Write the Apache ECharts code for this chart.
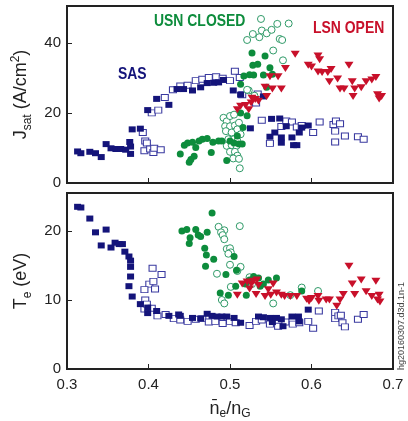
<!DOCTYPE html>
<html>
<head>
<meta charset="utf-8">
<script src="https://cdn.jsdelivr.net/npm/echarts@6/dist/echarts.min.js"></script>
<style>
  html, body { margin: 0; padding: 0; background: #fff; }
  #main { width: 408px; height: 421px; }
</style>
</head>
<body>
<div id="main"></div>
<script>
// x = ne/nG, y = Jsat (top) or Te (bottom)
const sasSolidJsat = [[0.313,9.0],[0.317,8.5],[0.328,8.9],[0.335,8.5],[0.342,7.4],[0.348,11.1],[0.354,9.9],[0.360,9.7],[0.366,9.7],[0.372,9.5],[0.377,11.7],[0.378,10.4],[0.378,8.3],[0.380,15.3],[0.390,15.5],[0.399,20.8],[0.410,24.0],[0.425,22.3],[0.435,26.8],[0.443,26.8],[0.454,26.4],[0.464,27.3],[0.472,28.5],[0.480,28.6],[0.486,28.7],[0.492,29.4],[0.504,26.4],[0.513,25.2],[0.525,15.6],[0.541,24.7],[0.551,18.3],[0.561,18.4],[0.569,16.2],[0.549,13.2],[0.555,14.4],[0.563,13.0],[0.563,11.5],[0.576,13.0],[0.578,10.8],[0.582,10.8],[0.585,14.4],[0.588,15.8],[0.596,16.4]];
const sasOpenJsat = [[0.393,14.4],[0.396,12.0],[0.398,11.4],[0.395,9.2],[0.402,9.7],[0.406,8.7],[0.407,9.9],[0.415,9.5],[0.404,20.0],[0.412,20.8],[0.420,24.4],[0.430,26.6],[0.439,27.7],[0.448,27.9],[0.458,29.2],[0.466,29.6],[0.474,30.1],[0.483,30.3],[0.491,29.9],[0.500,29.2],[0.506,31.9],[0.512,30.1],[0.515,25.2],[0.534,25.4],[0.532,22.8],[0.539,17.9],[0.549,11.3],[0.563,16.1],[0.569,17.7],[0.576,17.4],[0.582,16.0],[0.588,16.4],[0.602,14.4],[0.610,17.4],[0.627,16.7],[0.629,14.8],[0.630,17.7],[0.635,16.9],[0.629,11.7],[0.641,13.4],[0.657,13.2],[0.664,12.5]];
const usnSolidJsat = [[0.439,8.3],[0.444,10.8],[0.448,11.4],[0.454,11.6],[0.450,5.9],[0.452,6.7],[0.456,7.6],[0.458,10.1],[0.462,12.0],[0.466,12.5],[0.472,12.7],[0.477,8.7],[0.479,11.6],[0.486,12.0],[0.490,12.0],[0.496,6.4],[0.500,12.0],[0.505,11.4],[0.511,11.1],[0.515,11.1],[0.509,13.4],[0.516,15.8],[0.521,19.2],[0.513,20.0],[0.513,28.2],[0.517,30.5],[0.524,30.9],[0.527,37.1],[0.528,33.6],[0.534,33.9],[0.543,36.2],[0.541,30.8],[0.549,32.9],[0.545,27.3],[0.529,30.8],[0.552,31.0]];
const usnOpenJsat = [[0.538,46.8],[0.528,42.5],[0.539,43.5],[0.545,42.7],[0.551,43.7],[0.558,45.4],[0.572,45.5],[0.521,40.8],[0.536,41.6],[0.561,41.1],[0.564,40.8],[0.553,37.8],[0.565,35.0],[0.523,26.4],[0.492,18.6],[0.496,17.6],[0.500,19.1],[0.505,19.5],[0.494,16.2],[0.500,16.2],[0.506,16.4],[0.511,17.2],[0.495,14.8],[0.502,14.4],[0.509,15.3],[0.513,13.9],[0.498,12.5],[0.505,12.5],[0.509,12.0],[0.496,10.6],[0.502,10.8],[0.508,10.6],[0.500,8.9],[0.506,8.9],[0.509,7.8],[0.504,7.0],[0.511,6.9],[0.512,4.2],[0.521,26.6],[0.530,24.9]];
const lsnJsat = [[0.509,20.9],[0.513,21.9],[0.519,22.1],[0.523,20.9],[0.526,22.8],[0.527,24.2],[0.531,23.8],[0.535,23.3],[0.543,27.3],[0.545,24.7],[0.549,30.3],[0.559,30.3],[0.552,26.8],[0.563,26.8],[0.568,32.7],[0.580,36.7],[0.596,33.6],[0.600,33.1],[0.608,36.2],[0.610,35.2],[0.608,31.7],[0.613,31.5],[0.620,31.5],[0.624,32.4],[0.622,28.9],[0.632,29.7],[0.635,26.8],[0.640,26.8],[0.646,33.6],[0.650,28.9],[0.653,26.8],[0.661,27.2],[0.651,24.7],[0.667,28.9],[0.674,29.4],[0.679,30.1],[0.681,25.2],[0.683,24.0],[0.686,24.7]];

const sasSolidTe = [[0.313,23.5],[0.317,23.4],[0.328,21.8],[0.335,19.8],[0.342,17.9],[0.348,20.2],[0.354,17.6],[0.359,18.3],[0.364,18.1],[0.368,18.1],[0.371,17.0],[0.376,16.3],[0.378,15.7],[0.378,14.8],[0.378,13.4],[0.376,12.0],[0.380,10.5],[0.390,9.4],[0.399,8.1],[0.399,8.9],[0.410,8.4],[0.425,7.7],[0.437,7.9],[0.439,7.7],[0.454,7.4],[0.464,7.3],[0.472,8.0],[0.478,7.7],[0.484,7.6],[0.490,7.6],[0.496,7.6],[0.505,7.4],[0.513,6.7],[0.535,7.6],[0.541,7.5],[0.549,7.4],[0.552,6.8],[0.557,7.4],[0.563,7.2],[0.565,6.2],[0.576,7.6],[0.584,7.6],[0.585,6.9],[0.596,8.6]];
const sasOpenTe = [[0.405,14.6],[0.401,12.3],[0.406,12.7],[0.416,13.7],[0.395,11.5],[0.408,11.6],[0.396,10.0],[0.395,8.7],[0.398,9.4],[0.404,8.8],[0.411,7.7],[0.421,7.9],[0.431,7.3],[0.439,7.1],[0.448,6.9],[0.458,7.2],[0.466,7.3],[0.474,6.8],[0.482,6.9],[0.491,6.6],[0.500,6.9],[0.507,6.7],[0.524,6.3],[0.532,6.9],[0.539,7.1],[0.549,6.5],[0.559,6.2],[0.568,6.8],[0.577,6.5],[0.585,6.7],[0.596,6.9],[0.602,5.9],[0.609,8.4],[0.629,8.2],[0.629,7.3],[0.633,7.7],[0.636,7.8],[0.638,6.7],[0.641,6.1],[0.657,7.2],[0.664,7.9]];
const usnSolidTe = [[0.441,20.0],[0.447,20.2],[0.451,19.0],[0.450,18.2],[0.458,20.2],[0.461,19.4],[0.464,19.2],[0.472,19.8],[0.478,22.6],[0.469,17.5],[0.471,16.5],[0.480,15.9],[0.470,14.9],[0.495,13.7],[0.505,16.3],[0.508,14.3],[0.507,12.0],[0.519,12.3],[0.488,11.0],[0.498,10.7],[0.520,10.7],[0.537,12.0],[0.541,12.3],[0.547,12.9],[0.557,13.2],[0.524,12.9],[0.529,13.4],[0.535,13.2],[0.588,11.3]];
const usnOpenTe = [[0.486,20.6],[0.493,20.1],[0.489,19.8],[0.491,19.4],[0.493,18.8],[0.512,20.7],[0.496,17.4],[0.500,17.5],[0.501,16.9],[0.498,16.7],[0.500,15.1],[0.513,14.8],[0.509,14.2],[0.484,13.8],[0.524,13.3],[0.501,11.9],[0.490,10.0],[0.493,9.5],[0.527,12.3],[0.553,9.5],[0.574,10.7],[0.588,11.8],[0.608,11.3]];
const lsnTe = [[0.509,10.7],[0.515,12.3],[0.521,12.6],[0.526,12.3],[0.524,11.6],[0.529,12.7],[0.533,12.9],[0.535,12.1],[0.532,10.8],[0.543,10.5],[0.547,11.5],[0.550,10.7],[0.553,12.3],[0.557,11.0],[0.563,10.7],[0.567,10.5],[0.574,10.5],[0.582,10.5],[0.594,10.1],[0.597,9.8],[0.600,10.2],[0.608,10.5],[0.609,9.8],[0.618,10.0],[0.622,10.0],[0.631,9.1],[0.635,10.0],[0.639,10.8],[0.646,14.9],[0.650,12.3],[0.653,10.8],[0.661,12.9],[0.667,11.2],[0.674,10.5],[0.679,12.7],[0.681,10.0],[0.683,10.7],[0.684,9.7]];

const xTicks = { min: 0.3, max: 0.7, interval: 0.1 };
const jsatTicks = { min: 0, max: 50.5, interval: 20 };
const teTicks = { min: 0, max: 25.5, interval: 10 };

const NAVY = '#14147a';
const GREEN = '#0d8c3c';
const GREEN_OPEN = '#2f9a68';
const RED = '#c8102a';
const FONT = '"Liberation Sans", Arial, sans-serif';

const chart = echarts.init(document.getElementById('main'));

function xAxisFor(idx, showLabels) {
    return {
        type: 'value', gridIndex: idx,
        min: xTicks.min, max: xTicks.max, interval: xTicks.interval,
        axisLine: { show: true, lineStyle: { color: '#222', width: 2 } },
        axisTick: { show: true, inside: true, length: 5, lineStyle: { color: '#222', width: 1 } },
        axisLabel: { show: showLabels, color: '#222', fontSize: 15, fontFamily: FONT, margin: 8, formatter: v => v.toFixed(1) },
        splitLine: { show: false }
    };
}

function yAxisFor(idx, ticks, name, gap) {
    return {
        type: 'value', gridIndex: idx,
        min: ticks.min, max: ticks.max, interval: ticks.interval,
        axisLine: { show: true, lineStyle: { color: '#222', width: 2 } },
        axisTick: { show: true, inside: true, length: 5, lineStyle: { color: '#222', width: 1 } },
        axisLabel: { color: '#222', fontSize: 15, fontFamily: FONT, margin: 6, showMaxLabel: false },
        splitLine: { show: false },
        name: name, nameLocation: 'middle', nameRotate: 90, nameGap: gap,
        nameTextStyle: {
            rich: {
                m: { fontSize: 18, fontFamily: FONT, color: '#222', lineHeight: 24, verticalAlign: 'middle' },
                s: { fontSize: 12, fontFamily: FONT, color: '#222', verticalAlign: 'bottom' },
                p: { fontSize: 12, fontFamily: FONT, color: '#222', verticalAlign: 'top' }
            }
        }
    };
}

function solid(data, xi, symbol, size, color, rotate) {
    return {
        type: 'scatter', xAxisIndex: xi, yAxisIndex: xi, data: data,
        symbol: symbol, symbolSize: size, symbolRotate: rotate || 0,
        itemStyle: { color: color, opacity: 1 }, animation: false
    };
}
function hollow(data, xi, symbol, size, color) {
    return {
        type: 'scatter', xAxisIndex: xi, yAxisIndex: xi, data: data,
        symbol: symbol, symbolSize: size,
        itemStyle: { color: '#fff', borderColor: color, borderWidth: 1, opacity: 1 }, animation: false
    };
}

function label(text, x, y, color) {
    return {
        type: 'text', x: x, y: y, scaleX: 0.82,
        style: { text: text, fill: color, font: 'bold 17px ' + FONT, verticalAlign: 'top' }
    };
}

chart.setOption({
    backgroundColor: '#fff',
    grid: [
        { left: 67, right: 15, top: 6, height: 177, show: true, borderColor: '#222', borderWidth: 2, backgroundColor: 'transparent' },
        { left: 67, right: 15, top: 193, height: 180, show: true, borderColor: '#222', borderWidth: 2, backgroundColor: 'transparent' }
    ],
    xAxis: [
        xAxisFor(0, false),
        Object.assign(xAxisFor(1, true), {
            name: '{m|n\u0304}{s|e}{m|/n}{s|G}', nameLocation: 'middle', nameGap: 29,
            nameTextStyle: {
                rich: {
                    m: { fontSize: 18, fontFamily: FONT, color: '#222', lineHeight: 22, verticalAlign: 'middle' },
                    s: { fontSize: 12, fontFamily: FONT, color: '#222', verticalAlign: 'bottom' }
                }
            }
        })
    ],
    yAxis: [
        yAxisFor(0, jsatTicks, '{m|J}{s|sat}{m| (A/cm}{p|2}{m|)}', 24),
        yAxisFor(1, teTicks, '{m|T}{s|e}{m| (eV)}', 24)
    ],
    series: [
        hollow(sasOpenJsat, 0, 'rect', [7, 6], '#3a3aa0'),
        hollow(usnOpenJsat, 0, 'circle', 7, GREEN_OPEN),
        solid(sasSolidJsat, 0, 'rect', [7, 6], NAVY),
        solid(usnSolidJsat, 0, 'circle', 7, GREEN),
        solid(lsnJsat, 0, 'triangle', [9, 7], RED, 180),
        hollow(sasOpenTe, 1, 'rect', [7, 6], '#3a3aa0'),
        hollow(usnOpenTe, 1, 'circle', 7, GREEN_OPEN),
        solid(sasSolidTe, 1, 'rect', [7, 6], NAVY),
        solid(usnSolidTe, 1, 'circle', 7, GREEN),
        solid(lsnTe, 1, 'triangle', [9, 7], RED, 180)
    ],
    graphic: [
        label('SAS', 118, 66, NAVY),
        label('USN CLOSED', 154, 13, GREEN),
        label('LSN OPEN', 313, 20, RED),
        { type: 'text', x: 397, y: 370, rotation: Math.PI / 2, style: { text: 'hg20160307.d3d.1n-1', fill: '#444', font: '9px ' + FONT } }
    ]
});
</script>
</body>
</html>
